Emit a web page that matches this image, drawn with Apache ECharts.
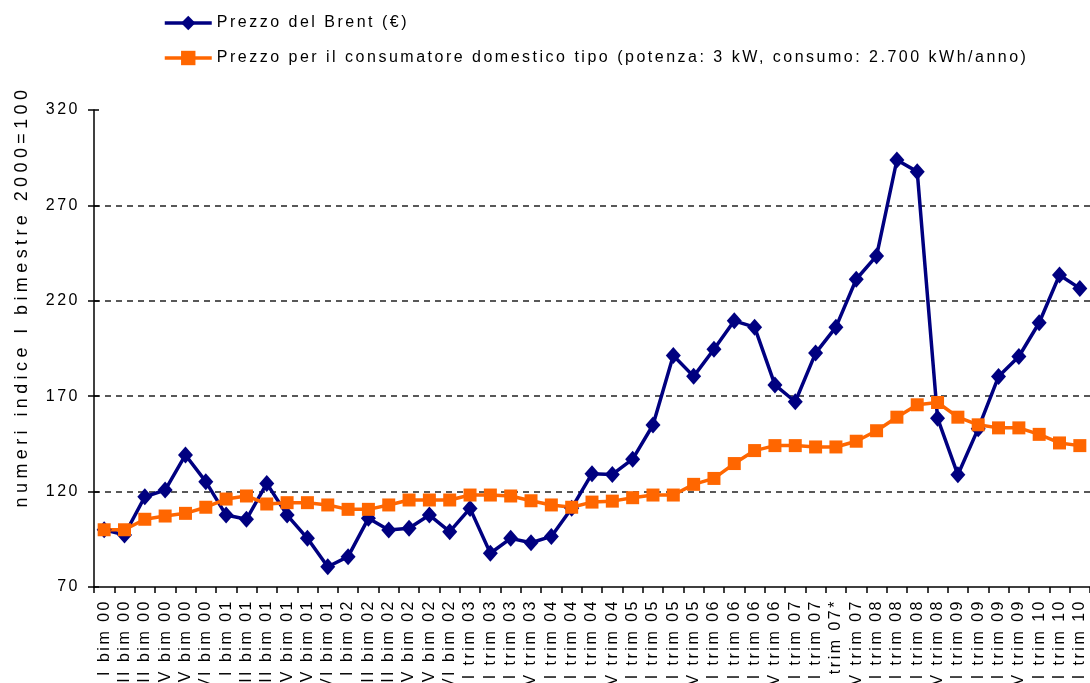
<!DOCTYPE html>
<html><head><meta charset="utf-8">
<script src="https://cdn.jsdelivr.net/npm/echarts@6/dist/echarts.min.js"></script>
<style>html,body{margin:0;padding:0;background:#fff;overflow:hidden}#c{width:1090px;height:683px}</style>
</head><body><div id="c"></div>
<script>
const categories = [
  'I bim 00','II bim 00','III bim 00','IV bim 00','V bim 00','VI bim 00',
  'I bim 01','II bim 01','III bim 01','IV bim 01','V bim 01','VI bim 01',
  'I bim 02','II bim 02','III bim 02','IV bim 02','V bim 02','VI bim 02',
  'I trim 03','II trim 03','III trim 03','IV trim 03',
  'I trim 04','II trim 04','III trim 04','IV trim 04',
  'I trim 05','II trim 05','III trim 05','IV trim 05',
  'I trim 06','II trim 06','III trim 06','IV trim 06',
  'I trim 07','II trim 07','III trim 07*','IV trim 07',
  'I trim 08','II trim 08','III trim 08','IV trim 08',
  'I trim 09','II trim 09','III trim 09','IV trim 09',
  'I trim 10','II trim 10','III trim 10'
];
const brent = [
  100, 97.3, 117.3, 120.8, 139.2, 125.2,
  107.7, 105.5, 124.3, 107.7, 95.5, 80.6,
  85.9, 106, 99.9, 100.8, 107.7, 99,
  111.2, 87.7, 95.5, 93.2,
  96.5, 111.3, 129.4, 129,
  137, 154.9, 191.3, 180.4,
  194.6, 209.5, 206.2, 175.9,
  167.1, 192.6, 206.2, 231.3,
  243.5, 293.8, 287.7, 158.5,
  128.8, 153, 180.3, 190.8,
  208.5, 233.5, 226.5
];
const consumer = [
  100, 100, 105.5, 107.2, 108.6, 111.8,
  116.1, 117.7, 113.5, 114.2, 114.2, 113,
  110.7, 110.7, 113, 115.6, 115.6, 115.6,
  118.2, 118.2, 117.7, 115.2,
  113, 111.8, 114.5, 115,
  116.8, 118.2, 118.2, 123.8,
  126.9, 134.7, 141.5, 144.1,
  144.1, 143.4, 143.4, 146.4,
  151.9, 159, 165.5, 166.7,
  159, 155, 153.4, 153.4,
  150, 145.5, 144.1
];
const seriesNames = ['Prezzo del Brent (€)', 'Prezzo per il consumatore domestico tipo (potenza: 3 kW, consumo: 2.700 kWh/anno)'];
const yAxisName = 'numeri indice I bimestre 2000=100';
const yMin = 70, yMax = 320, yStep = 50;

// wide letter spacing like the original export
(function(){
  const P = CanvasRenderingContext2D.prototype;
  const ft = P.fillText;
  P.fillText = function(){
    if ('letterSpacing' in this) this.letterSpacing = (this.font.indexOf('18px') >= 0) ? '4.4px' : '2.5px';
    return ft.apply(this, arguments);
  };
})();

const FONT = 'Liberation Sans';
const chart = echarts.init(document.getElementById('c'), null, {renderer:'canvas'});
chart.setOption({
  animation: false,
  backgroundColor: '#fff',
  textStyle: {fontFamily: FONT, color: '#000'},
  legend: {
    orient: 'vertical', left: 163, top: 15, padding: 0, itemWidth: 47, itemHeight: 18, itemGap: 19,
    lineStyle: {width: 3.5},
    textStyle: {fontFamily: FONT, fontSize: 16, color: '#000'},
    data: seriesNames
  },
  grid: {left: 94, top: 110, width: 1000.6, height: 477},
  xAxis: {
    type: 'category', data: categories, boundaryGap: true,
    axisLine: {lineStyle: {color: '#000', width: 1.5}},
    axisTick: {show: true, length: 6, interval: 0, lineStyle: {color: '#000', width: 1.5}},
    axisLabel: {interval: 0, rotate: 90, margin: 12, fontFamily: FONT, fontSize: 16, color: '#000'},
    splitLine: {show: false}
  },
  yAxis: [{
    type: 'value', min: yMin, max: yMax, interval: yStep, position: 'left',
    name: yAxisName, nameLocation: 'middle', nameGap: 63,
    nameTextStyle: {fontFamily: FONT, fontSize: 18, color: '#000', padding: [0, 0, 0, 104]},
    axisLine: {show: true, lineStyle: {color: '#000', width: 1.5}},
    axisTick: {show: true, length: 6, lineStyle: {color: '#000', width: 1.5}},
    axisLabel: {margin: 14, fontFamily: FONT, fontSize: 16, color: '#000'},
    splitLine: {show: true, showMinLine: false, showMaxLine: false, lineStyle: {color: '#222', width: 1.5, type: [6, 5]}}
  }, {
    type: 'value', min: yMin, max: yMax, interval: yStep, position: 'left', offset: 0,
    axisLine: {show: false}, axisLabel: {show: false}, splitLine: {show: false},
    axisTick: {show: true, inside: true, length: 5, lineStyle: {color: '#000', width: 1.5}}
  }],
  series: [{
    name: seriesNames[0], type: 'line', data: brent,
    symbol: 'diamond', symbolSize: [15, 17],
    itemStyle: {color: '#000080'}, lineStyle: {color: '#000080', width: 3.5}
  }, {
    name: seriesNames[1], type: 'line', data: consumer,
    symbol: 'rect', symbolSize: 13,
    itemStyle: {color: '#FF6600'}, lineStyle: {color: '#FF6600', width: 3.5}
  }]
});
</script></body></html>
